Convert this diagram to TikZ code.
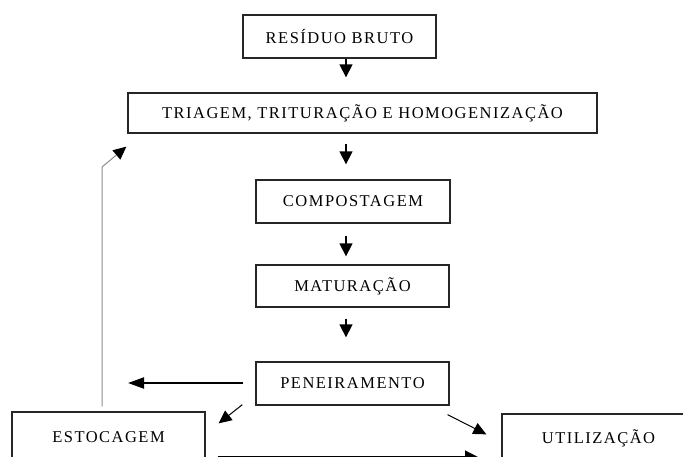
\documentclass[tikz,border=0pt]{standalone}
\usepackage{fontspec}
\setmainfont[LetterSpace=9]{Liberation Serif}
\usetikzlibrary{arrows.meta,calc}
\begin{document}
\begin{tikzpicture}[x=1pt,y=-1pt,
  box/.style={draw=black!85,line width=1.3pt,fill=white,inner sep=0pt,
    font=\fontsize{16.5}{18}\selectfont},
  arr/.style={draw=black,line width=1.3pt,-{Triangle[length=13pt,width=13pt]}},
  thinarr/.style={draw=black,line width=1pt,-{Triangle[length=13pt,width=12pt]}},
  grayarr/.style={draw=black!45,line width=1pt,-{Triangle[length=13pt,width=12pt,color=black]}}]
\useasboundingbox (0,0) rectangle (683,456);
\clip (0,0) rectangle (683,456);
\fill[white] (0,0) rectangle (683,456);
% boxes
\node[box,minimum width=193pt,minimum height=43pt] (res) at (339.5,36.5) {RESÍDUO BRUTO};
\node[box,minimum width=469pt,minimum height=40pt] (tri) at (362.5,113) {TRIAGEM, TRITURAÇÃO E HOMOGENIZAÇÃO};
\node[box,minimum width=194pt,minimum height=43pt] (comp) at (353,201.5) {COMPOSTAGEM};
\node[box,minimum width=193pt,minimum height=42pt] (mat) at (352.5,286) {MATURAÇÃO};
\node[box,minimum width=193pt,minimum height=43pt] (pen) at (352.5,383.5) {PENEIRAMENTO};
\node[box,minimum width=193pt,minimum height=50pt] (est) at (108.5,437) {ESTOCAGEM};
\node[box,minimum width=193pt,minimum height=48pt] (uti) at (598.5,438) {UTILIZAÇÃO};
% column for vertical arrows
\coordinate (ax) at (346,0);
\draw[arr,shorten >=15pt] (res.south -| ax) -- (tri.north -| ax);
\draw[arr,shorten <=10pt,shorten >=15pt] (tri.south -| ax) -- (comp.north -| ax);
\draw[arr,shorten <=12pt,shorten >=8pt] (comp.south -| ax) -- (mat.north -| ax);
\draw[arr,shorten <=11pt,shorten >=24pt] (mat.south -| ax) -- (pen.north -| ax);
% left horizontal arrow
\coordinate (lend) at (128,383);
\draw[draw=black,line width=2pt,-{Triangle[length=16pt,width=11pt]},shorten <=12pt] (pen.west |- lend) -- (lend);
% diagonal arrows
\draw[thinarr] ($(pen.south west)+(-13,-1)$) -- ($(est.north east)+(13,12)$);
\draw[thinarr] ($(pen.south east)+(-2,9)$) -- ($(uti.north west)+(-15,21)$);
% bottom arrow
\coordinate (bend) at (478,457);
\draw[arr,shorten <=12pt] (est.east |- bend) -- (bend);
% feedback gray line
\coordinate (fb) at (102,167);
\draw[grayarr] ($(est.north -| fb)+(0,-5)$) -- (fb) -- ($(tri.south west)+(-1,13)$);
\end{tikzpicture}
\end{document}
